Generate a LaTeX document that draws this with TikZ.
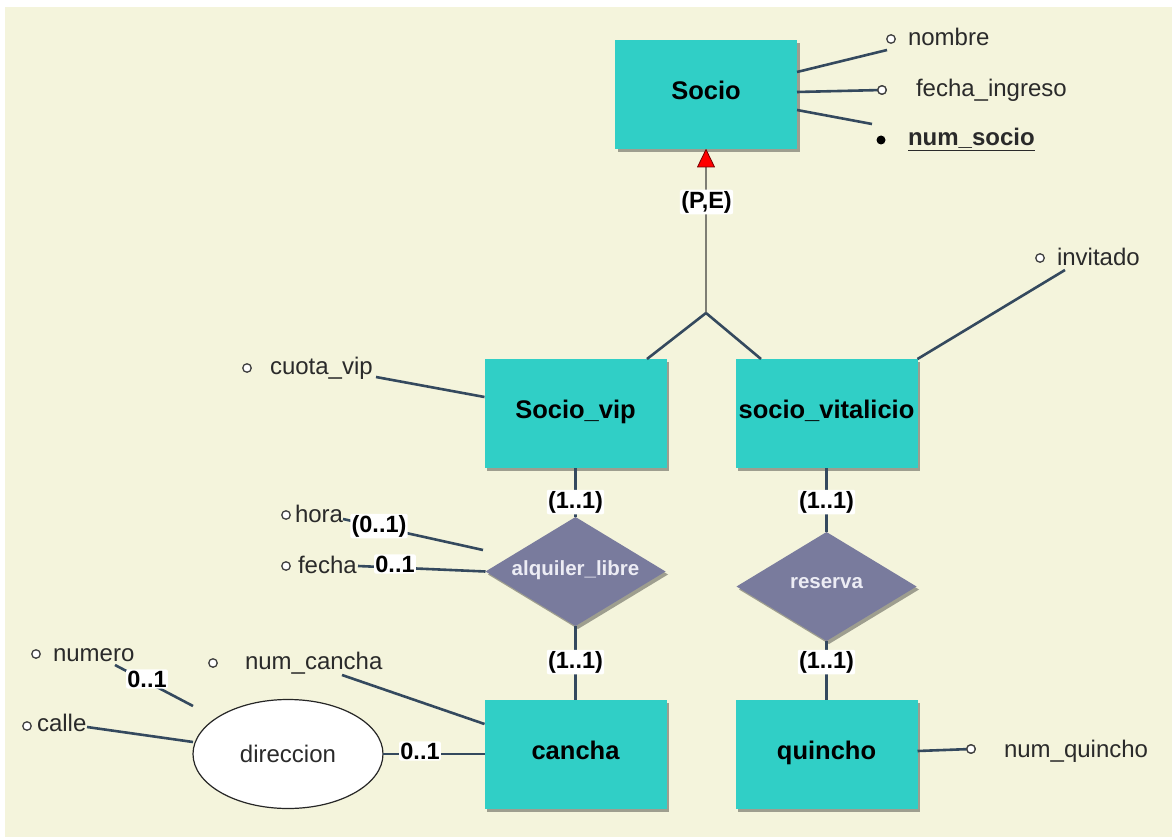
\documentclass[tikz,border=0pt]{standalone}
\usepackage{fontspec}
\setmainfont{Liberation Sans}
\usetikzlibrary{shapes.geometric,shadows}
\definecolor{paper}{HTML}{F4F4DC}
\definecolor{entfill}{HTML}{30CFC6}
\definecolor{relfill}{HTML}{797B9D}
\definecolor{linkc}{HTML}{34495E}
\definecolor{isac}{HTML}{7E7E74}
\definecolor{attrtext}{HTML}{2A2A2A}
\definecolor{reltext}{HTML}{ECECF4}
\begin{document}
\begin{tikzpicture}[x=1pt,y=-1pt,
  every node/.style={inner sep=0pt, outer sep=0pt},
  softshadow/.style={drop shadow={shadow xshift=2.5pt, shadow yshift=-3pt, fill=black, opacity=.35}},
  entity/.style={rectangle, fill=entfill, minimum width=182pt, minimum height=109pt,
    text height=18pt, text depth=8pt,
    font=\fontsize{25.5}{30}\selectfont\bfseries, text=black, softshadow},
  relation/.style={diamond, fill=relfill, minimum width=180pt, minimum height=109pt, aspect=1.65,
    text height=15pt, text depth=7pt,
    font=\fontsize{20.5}{24}\selectfont\bfseries, text=reltext, softshadow},
  attr/.style={anchor=base west, font=\fontsize{24}{28}\selectfont, text=attrtext},
  ring/.style={circle, draw=black!75, fill=white, line width=1.3pt, minimum size=8.5pt},
  keydot/.style={circle, fill=black, minimum size=9pt},
  card/.style={fill=white, inner sep=1.3pt, rounded corners=2pt,
    font=\fontsize{23.5}{28}\selectfont\bfseries, text=black},
  link/.style={draw=linkc, line width=2.6pt},
  isaline/.style={draw=isac, line width=2.6pt}]

% canvas
\useasboundingbox (0,0) rectangle (1172,837);
\fill[white] (0,0) rectangle (1172,837);
\fill[paper] (5,7) rectangle (1172,837);

% entities and relationships
\node[entity] (socio)   at (706,95)      {Socio};
\node[entity] (vip)     at (575.5,413.5) {Socio\_vip};
\node[entity] (vit)     at (826.5,413.5) {socio\_vitalicio};
\node[entity] (cancha)  at (575.5,754)   {cancha};
\node[entity] (quincho) at (826.5,754)   {quincho};
\node[relation] (alq) at (575.5,571.5) {alquiler\_libre};
\node[relation, text height=13pt, text depth=9pt] (res) at (826.5,586.5) {reserva};
\node[ellipse, draw=black!85, fill=white, line width=1.2pt, minimum width=190pt, minimum height=109pt,
      font=\fontsize{24}{28}\selectfont, text=attrtext] (dir) at (288,754) {direccion};

% attribute markers and names
\node[ring]   (c-nombre) at (891,39)  {};
\node[attr]   (t-nombre) at (908,46)  {nombre};
\node[ring]   (c-fing)   at (882,90)  {};
\node[attr]   (t-fing)   at (916,97)  {fecha\_ingreso};
\node[keydot] (c-nsoc)   at (881,140) {};
\node[attr, font=\fontsize{24}{28}\selectfont\bfseries] (t-nsoc) at (908,146) {\underline{num\_socio}};
\node[ring]   (c-inv)    at (1040,258) {};
\node[attr]   (t-inv)    at (1057,265) {invitado};
\node[ring]   (c-cuota)  at (247,368) {};
\node[attr]   (t-cuota)  at (270,374) {cuota\_vip};
\node[ring]   (c-hora)   at (286,515) {};
\node[attr]   (t-hora)   at (295,522) {hora};
\node[ring]   (c-fecha)  at (286,566) {};
\node[attr]   (t-fecha)  at (298,573) {fecha};
\node[ring]   (c-num)    at (36,654)  {};
\node[attr]   (t-num)    at (53,661)  {numero};
\node[ring]   (c-ncan)   at (213,663) {};
\node[attr]   (t-ncan)   at (245,669) {num\_cancha};
\node[ring]   (c-calle)  at (27,726)  {};
\node[attr]   (t-calle)  at (37,731)  {calle};
\node[ring]   (c-nq)     at (971,749) {};
\node[attr]   (t-nq)     at (1004,757) {num\_quincho};

% free ends of attribute lines
\coordinate (e-nombre) at (887,50);
\coordinate (e-nsoc)   at (872,124);
\coordinate (e-inv)    at (1065,270);
\coordinate (e-cuota)  at (376,377);
\coordinate (e-hora)   at (343,519);
\coordinate (h-hora)   at (483,550);
\coordinate (e-fecha)  at (358,566);
\coordinate (e-num)    at (115,665);
\coordinate (h-num)    at (193,706);
\coordinate (e-ncan)   at (342,675);
\coordinate (e-calle)  at (87,727);
\coordinate (h-calle)  at (193,742);

% attribute lines
\draw[link] (socio.east |- 0,72) -- (e-nombre);
\draw[link] (socio.east |- 0,92) -- (c-fing);
\draw[link] (socio.east |- 0,110) -- (e-nsoc);
\draw[link] (vit.north east) -- (e-inv);
\draw[link] (e-cuota) -- (vip.west |- 0,397);
\draw[link] (e-hora) -- (h-hora);
\draw[link] (e-fecha) -- (alq.west);
\draw[link] (e-num) -- (h-num);
\draw[link] (e-ncan) -- (cancha.west |- 0,724);
\draw[link] (e-calle) -- (h-calle);
\draw[link] (quincho.east |- 0,751) -- (c-nq);
\node[ring] at (c-fing) {};
\node[ring] at (c-nq) {};

% relationship lines
\draw[link] (vip.south) -- (alq.north);
\draw[link] (alq.south) -- (cancha.north);
\draw[link] (vit.south) -- (res.north);
\draw[link] (res.south) -- (quincho.north);
\draw[link] (dir.east) -- (cancha.west);

% specialisation
\coordinate (tribase) at (706,167);
\coordinate (fork) at (706,313);
\draw[isaline] (tribase) -- (fork);
\draw[link] (fork) -- (vip.north east -| 647,0);
\draw[link] (fork) -- (vit.north west -| 761,0);
\draw[fill=red, draw=red!45!black, line width=0.8pt, line join=round]
  (socio.south) -- (tribase -| 714.5,0) -- (tribase -| 697.5,0) -- cycle;

% cardinalities
\node[card] (pe)  at (706.5,202) {(P,E)};
\node[card] (k1)  at (575.5,502) {(1..1)};
\node[card] (k2)  at (575.5,662) {(1..1)};
\node[card] (k3)  at (826.5,502) {(1..1)};
\node[card] (k4)  at (826.5,662) {(1..1)};
\node[card] (k5)  at (379,526)   {(0..1)};
\node[card] (k6)  at (395,564)   {0..1};
\node[card] (k7)  at (147,679)   {0..1};
\node[card] (k8)  at (420,751)   {0..1};
\end{tikzpicture}
\end{document}
